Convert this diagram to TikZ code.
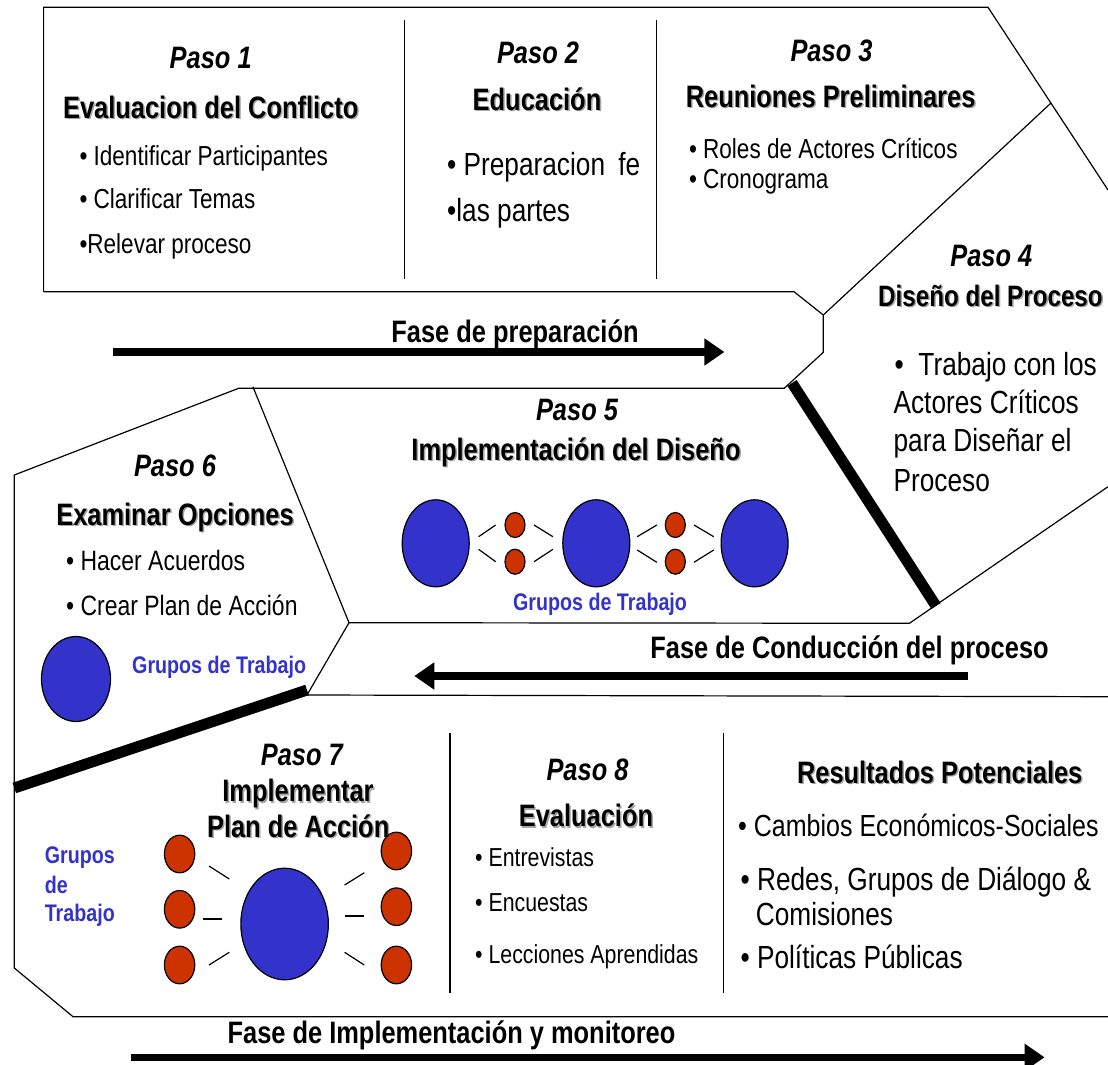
\documentclass[tikz,border=0pt]{standalone}
\usepackage{fontspec}
\setmainfont{Liberation Sans}[FakeStretch=0.82]
\usetikzlibrary{shapes.geometric}
\usetikzlibrary{arrows.meta}
\definecolor{grpblue}{HTML}{3333CC}
\definecolor{grpred}{HTML}{CC3300}
\newcommand{\fs}[1]{\fontsize{#1}{#1}\selectfont}
\newcommand{\shd}[1]{\makebox[0pt][l]{\kern1.5pt\raisebox{-1.5pt}{\color{black!35}#1}}#1}

\begin{document}
\begin{tikzpicture}[x=1pt,y=-1pt,
        every node/.style={inner sep=0pt},
        paso/.style={anchor=base,font=\fs{31}\bfseries\itshape},
        head/.style={anchor=base,font=\fs{31}\bfseries},
        item/.style={anchor=base west,font=\fs{27.5}},
        bigitem/.style={anchor=base west,font=\fs{32}},
        grp/.style={font=\fs{24}\bfseries,text=grpblue},
        grande/.style={ellipse,draw,line width=1.2pt,fill=grpblue},
        chico/.style={ellipse,draw,line width=1.2pt,fill=grpred},
        borde/.style={line width=1.2pt},
        fase/.style={line width=7.5pt,-{Triangle[length=20pt,width=26pt]}},
        barra/.style={line width=11pt}]
        \fill[white] (0,0) rectangle (1108,1065);
        \useasboundingbox (0,0) rectangle (1108,1065);

        % outlines of the three phases
        \draw[borde] (43.6,291.7) -- (43.6,7.3) -- (988,7.3) -- (1108,190);
        \draw[borde] (43.6,291.7) -- (794,291.7) -- (823.3,315) -- (823.3,352.3) -- (784.2,388.3)
            -- (238.6,388.3) -- (14.3,475) -- (14.3,968) -- (73,1016.7) -- (1108,1016.7);
        \draw[borde] (1051,103) -- (823.3,315);
        \draw[borde] (252.9,386.7) -- (349,622.7) -- (307,695) -- (1108,696.7);
        \draw[borde] (349,622.7) -- (909.4,623.3) -- (1108,486.7);
        \draw[barra] (792,383) -- (936,606);
        \draw[barra] (307,690) -- (14.3,788);

        \draw[borde] (404.3,20) -- (404.3,279);
        \draw[borde] (656.8,20) -- (656.8,279);
        \draw[borde] (450,733) -- (450,993);
        \draw[borde] (723.3,733) -- (723.3,993);

        % Paso 1
        \node[paso] (P1) at (210.7,69) {Paso 1};
        \node[head] (H1) at (210.7,118.3) {\shd{Evaluacion del Conflicto}};
        \node[item] (I11) at (79.3,165.7) {• Identificar Participantes};
        \node[item] (I12) at (79.3,208.3) {• Clarificar Temas};
        \node[item] (I13) at (79.3,253) {•Relevar proceso};

        % Paso 2
        \node[paso] (P2) at (538,63.3) {Paso 2};
        \node[head] (H2) at (537,110) {\shd{Educación}};
        \node[bigitem] (I21) at (447,175) {• Preparacion\hspace{6pt} fe};
        \node[bigitem] (I22) at (447,221.7) {•las partes};

        % Paso 3
        \node[paso] (P3) at (831.5,61.7) {Paso 3};
        \node[head] (H3) at (830.6,107.3) {\shd{Reuniones Preliminares}};
        \node[item] (I31) at (688.8,158.3) {• Roles de Actores Críticos};
        \node[item] (I32) at (688.8,188.3) {• Cronograma};

        % Paso 4
        \node[paso] (P4) at (991.3,266.7) {Paso 4};
        \node[head,anchor=base west,font=\fs{29.5}\bfseries] (H4) at (878,306) {\shd{Diseño del Proceso}};
        \node[bigitem] (I41) at (894.5,375) {•\ \ Trabajo con los};
        \node[bigitem] (I42) at (893.4,413.3) {Actores Críticos};
        \node[bigitem] (I43) at (893.4,451.7) {para Diseñar el};
        \node[bigitem] (I44) at (893.4,491.7) {Proceso};

        \coordinate (prepA) at (112.5,352);
        \coordinate (prepB) at (724.4,352);
        \node[head] (F1) at (515,342.3) {Fase de preparación};
        \draw[fase] (prepA) -- (prepB);

        % Paso 5
        \node[paso] (P5) at (577,420) {Paso 5};
        \node[head] (H5) at (576,460) {\shd{Implementación del Diseño}};
        \node[grp,anchor=base] (G5) at (600,610) {Grupos de Trabajo};
        \node[grande,minimum width=67pt,minimum height=87pt] (g5a) at (435.7,543.3) {};
        \node[grande,minimum width=67pt,minimum height=87pt] (g5b) at (596.3,543.3) {};
        \node[grande,minimum width=67pt,minimum height=87pt] (g5c) at (754.6,543.3) {};
        \node[chico,minimum width=20pt,minimum height=25pt] (c5a) at (515,525) {};
        \node[chico,minimum width=20pt,minimum height=25pt] (c5b) at (515,561.7) {};
        \node[chico,minimum width=20pt,minimum height=25pt] (c5c) at (675.3,525) {};
        \node[chico,minimum width=20pt,minimum height=25pt] (c5d) at (675.3,561.7) {};
        \draw[borde] (478.6,536.7) -- (495.7,525);
        \draw[borde] (478.6,549.3) -- (495.7,561.7);
        \draw[borde] (534,525) -- (552.9,536.7);
        \draw[borde] (534,561.7) -- (552.9,549.3);
        \draw[borde] (637.2,536.7) -- (656.8,525);
        \draw[borde] (637.2,550) -- (656.8,562.3);
        \draw[borde] (694,525) -- (713.7,536.7);
        \draw[borde] (694,562.3) -- (713.7,550);

        % Paso 6
        \node[paso] (P6) at (175,476) {Paso 6};
        \node[head] (H6) at (175,525) {\shd{Examinar Opciones}};
        \node[item,font=\fs{28}] (I61) at (66,570.7) {• Hacer Acuerdos};
        \node[item,font=\fs{28}] (I62) at (66,615.7) {• Crear Plan de Acción};
        \node[grande,minimum width=69pt,minimum height=85pt] (g6) at (76,679) {};
        \node[grp,anchor=base west] (G6) at (132,673.3) {Grupos de Trabajo};

        \coordinate (condA) at (968,676);
        \coordinate (condB) at (414.3,676);
        \node[head] (F2) at (849.5,658.3) {Fase de Conducción del proceso};
        \draw[fase] (condA) -- (condB);

        % Paso 7
        \node[paso] (P7) at (301.8,765) {Paso 7};
        \node[head] (H7a) at (298,801.7) {\shd{Implementar}};
        \node[head] (H7b) at (298.2,837.3) {\shd{Plan de Acción}};
        \node[grp,anchor=base west] (G7a) at (44.6,863.3) {Grupos};
        \node[grp,anchor=base west] (G7b) at (44.6,893.3) {de};
        \node[grp,anchor=base west] (G7c) at (44.6,921.7) {Trabajo};
        \node[grande,minimum width=87.5pt,minimum height=111.6pt] (g7) at (284.6,924) {};
        \node[chico,minimum width=30.4pt,minimum height=37.6pt] (c7a) at (179.6,854) {};
        \node[chico,minimum width=30.4pt,minimum height=37.6pt] (c7b) at (179.6,909.3) {};
        \node[chico,minimum width=30.4pt,minimum height=37.6pt] (c7c) at (179.6,965) {};
        \node[chico,minimum width=30.4pt,minimum height=37.6pt] (c7d) at (396.4,851) {};
        \node[chico,minimum width=30.4pt,minimum height=37.6pt] (c7e) at (396.4,906.7) {};
        \node[chico,minimum width=30.4pt,minimum height=37.6pt] (c7f) at (396.4,965) {};
        \draw[borde] (209,866) -- (229.3,879);
        \draw[borde] (202.9,919) -- (222,919);
        \draw[borde] (209,965) -- (229.3,952.3);
        \draw[borde] (344.6,885) -- (364.3,872.7);
        \draw[borde] (344.6,916) -- (364.3,916);
        \draw[borde] (344.6,952.3) -- (364.3,965);

        % Paso 8
        \node[paso] (P8) at (587.5,780) {Paso 8};
        \node[head] (H8) at (586,826.7) {\shd{Evaluación}};
        \node[item,font=\fs{26}] (I81) at (475,866.7) {• Entrevistas};
        \node[item,font=\fs{26}] (I82) at (475,911.7) {• Encuestas};
        \node[item,font=\fs{26}] (I83) at (475,963.3) {• Lecciones Aprendidas};

        % resultados
        \node[head] (H9) at (939.7,783.3) {\shd{Resultados Potenciales}};
        \node[bigitem,font=\fs{30.5}] (I91) at (738,836.7) {• Cambios Económicos-Sociales};
        \node[bigitem] (I92) at (740.4,890) {• Redes, Grupos de Diálogo \&};
        \node[bigitem] (I93) at (755.7,925) {Comisiones};
        \node[bigitem] (I94) at (740.4,968.3) {• Políticas Públicas};

        \coordinate (implA) at (131.4,1057.3);
        \coordinate (implB) at (1044.6,1057.3);
        \node[head] (F3) at (451.5,1043.3) {Fase de Implementación y monitoreo};
        \draw[fase] (implA) -- (implB);

    \end{tikzpicture}
\end{document}
